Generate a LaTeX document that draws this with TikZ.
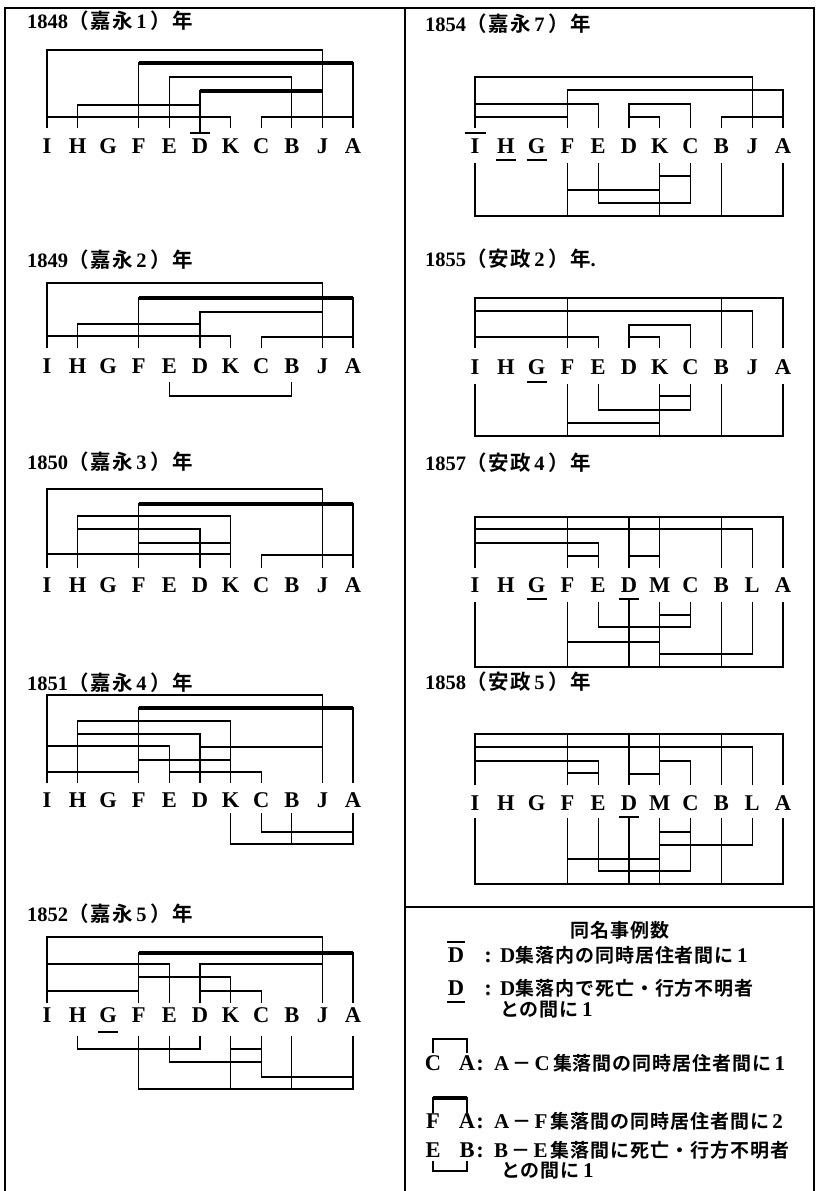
\documentclass[tikz,border=0pt]{standalone}
\usepackage{fontspec}
\setmainfont{Liberation Serif}
\newfontfamily\cjk{Noto Sans CJK JP}[BoldFont={Noto Sans CJK JP Bold},LetterSpace=5]
\newfontfamily\cjkt{Noto Sans CJK JP}[BoldFont={Noto Sans CJK JP Bold},LetterSpace=8]
\usetikzlibrary{calc}
\tikzset{
  lett/.style={font=\fontsize{22.5}{23}\selectfont\bfseries, anchor=base, inner sep=0pt},
  ttl/.style={font=\fontsize{20.5}{22}\selectfont\bfseries, anchor=base west, inner sep=0pt},
  lgtxt/.style={font=\fontsize{19}{21}\selectfont\bfseries, anchor=base west, inner sep=0pt},
  ln/.style={line width=1.3pt},
  thk/.style={line width=3.6pt},
  mthk/.style={line width=2.4pt},
  framel/.style={line width=1.8pt}
}
\newcommand\letrow[5]{\foreach \L [count=\i from 0] in {#5} {\node[lett] (#1-\L) at ({#2+#3*\i},#4) {\L};}}
\newcommand\brk[5][ln]{\draw[ln] (#2 |- 0,#5) -- (#2 |- 0,#4) -- (#3 |- 0,#4) -- (#3 |- 0,#5); \draw[#1] (#2 |- 0,#4) -- (#3 |- 0,#4);}
\newcommand\vln[3]{\draw[ln] (#1 |- 0,#2) -- (#1 |- 0,#3);}
\newcommand\undl[3]{\draw[ln] ($(#1 |- 0,#2)+(-#3,0)$) -- ($(#1 |- 0,#2)+(#3,0)$);}
\newcommand\yr[3]{#1{\cjkt （#2}\,#3\,{\cjkt ）年}}
\newcommand\lat[1]{{\fontsize{21}{21}\selectfont #1}}
\begin{document}
\begin{tikzpicture}[x=1pt,y=-1pt]
\fill[white] (0,0) rectangle (817,1191);
\useasboundingbox (0,0) rectangle (817,1191);
% frame
\draw[framel] (5,1191) -- (5,8) -- (814,8) -- (814,1191);
\draw[framel] (405,8) -- (405,1191);
\draw[framel] (405,907) -- (814,907);

% ---------- 1848
\node[ttl] (t1) at (27,28) {\yr{1848}{嘉永}{1}};
\letrow{a}{47}{30.6}{153}{I,H,G,F,E,D,K,C,B,J,A}
\brk{a-I}{a-J}{50}{128}
\brk[thk]{a-F}{a-A}{63}{128}
\brk{a-E}{a-B}{77}{128}
\brk[thk]{a-D}{a-J}{91}{128}
\brk{a-H}{a-D}{105}{128}
\brk{a-I}{a-K}{117}{128}
\brk{a-C}{a-A}{117}{128}
\vln{a-D}{128}{133}
\undl{a-D}{133}{10}

% ---------- 1849
\node[ttl] (t2) at (27,267) {\yr{1849}{嘉永}{2}};
\letrow{b}{47}{30.6}{373}{I,H,G,F,E,D,K,C,B,J,A}
\brk{b-I}{b-J}{283}{348}
\brk[thk]{b-F}{b-A}{298}{348}
\brk{b-D}{b-J}{312}{348}
\brk{b-H}{b-D}{324}{348}
\brk{b-I}{b-K}{336}{348}
\brk{b-C}{b-A}{337}{348}
\brk{b-E}{b-B}{396}{382}

% ---------- 1850
\node[ttl] (t3) at (27,469) {\yr{1850}{嘉永}{3}};
\letrow{c}{47}{30.6}{592}{I,H,G,F,E,D,K,C,B,J,A}
\brk{c-I}{c-J}{489}{568}
\brk[thk]{c-F}{c-A}{504}{568}
\brk{c-H}{c-K}{516}{568}
\brk{c-H}{c-D}{529}{568}
\brk{c-F}{c-K}{543}{568}
\brk{c-I}{c-K}{554}{568}
\brk{c-C}{c-A}{555}{568}

% ---------- 1851
\node[ttl] (t4) at (27,690) {\yr{1851}{嘉永}{4}};
\letrow{d}{47}{30.6}{807}{I,H,G,F,E,D,K,C,B,J,A}
\brk{d-I}{d-J}{695}{783}
\brk[thk]{d-F}{d-A}{708}{783}
\brk{d-H}{d-K}{721}{783}
\brk{d-H}{d-D}{734}{783}
\brk{d-I}{d-E}{746}{783}
\brk{d-D}{d-J}{747}{783}
\brk{d-F}{d-K}{760}{783}
\brk{d-I}{d-F}{772}{783}
\brk{d-E}{d-C}{772}{783}
\brk{d-C}{d-A}{832}{813}
\brk{d-K}{d-A}{844}{813}
\vln{d-B}{813}{844}

% ---------- 1852
\node[ttl] (t5) at (27,921) {\yr{1852}{嘉永}{5}};
\letrow{e}{47}{30.6}{1022}{I,H,G,F,E,D,K,C,B,J,A}
\brk{e-I}{e-J}{937}{1003}
\brk[thk]{e-F}{e-A}{953}{1003}
\brk{e-I}{e-E}{964}{1003}
\brk{e-D}{e-J}{964}{1003}
\brk{e-F}{e-K}{977}{1003}
\brk{e-I}{e-F}{991}{1003}
\brk{e-D}{e-C}{991}{1003}
\undl{e-G}{1032}{10}
\brk{e-H}{e-D}{1049}{1036}
\brk{e-K}{e-C}{1049}{1036}
\brk{e-E}{e-C}{1062}{1036}
\brk{e-C}{e-A}{1077}{1036}
\brk{e-F}{e-A}{1089}{1036}
\vln{e-K}{1036}{1089}
\vln{e-B}{1036}{1089}

% ---------- 1854
\node[ttl] (t6) at (425,31) {\yr{1854}{嘉永}{7}};
\letrow{f}{475}{30.8}{153}{I,H,G,F,E,D,K,C,B,J,A}
\brk{f-I}{f-J}{77}{128}
\brk{f-F}{f-A}{90}{128}
\brk{f-I}{f-E}{104}{128}
\brk{f-D}{f-C}{104}{128}
\brk{f-I}{f-F}{117}{128}
\brk{f-D}{f-K}{117}{128}
\brk{f-B}{f-A}{117}{128}
\undl{f-I}{133}{10.5}
\undl{f-H}{160}{10}
\undl{f-G}{160}{10}
\brk{f-K}{f-C}{176}{163}
\brk{f-F}{f-K}{190}{163}
\brk{f-E}{f-C}{203}{163}
\brk{f-I}{f-A}{216}{163}
\vln{f-F}{163}{216}
\vln{f-K}{163}{216}
\vln{f-B}{163}{216}

% ---------- 1855
\node[ttl] (t7) at (425,266) {\yr{1855}{安政}{2}.};
\letrow{g}{475}{30.8}{374}{I,H,G,F,E,D,K,C,B,J,A}
\brk{g-I}{g-A}{298}{348}
\vln{g-F}{298}{348}
\vln{g-B}{298}{348}
\brk{g-I}{g-J}{311}{348}
\brk{g-D}{g-C}{325}{348}
\brk{g-I}{g-E}{337}{348}
\brk{g-D}{g-K}{337}{348}
\undl{g-G}{382}{10}
\brk{g-K}{g-C}{396}{384}
\brk{g-E}{g-C}{410}{384}
\brk{g-F}{g-K}{423}{384}
\brk{g-I}{g-A}{436}{384}
\vln{g-F}{384}{436}
\vln{g-K}{384}{436}
\vln{g-B}{384}{436}

% ---------- 1857
\node[ttl] (t8) at (425,470) {\yr{1857}{安政}{4}};
\letrow{h}{475}{30.8}{592}{I,H,G,F,E,D,M,C,B,L,A}
\brk{h-I}{h-A}{517}{568}
\vln{h-F}{517}{568}
\vln{h-D}{517}{568}
\vln{h-M}{517}{568}
\vln{h-B}{517}{568}
\brk{h-I}{h-L}{529}{568}
\brk{h-I}{h-E}{543}{568}
\brk{h-F}{h-E}{556}{568}
\brk{h-D}{h-M}{556}{568}
\undl{h-G}{599}{10}
\undl{h-D}{599}{10}
\brk{h-M}{h-C}{615}{602}
\brk{h-E}{h-C}{627}{602}
\brk{h-F}{h-M}{642}{602}
\brk{h-M}{h-L}{654}{602}
\brk{h-I}{h-A}{667}{602}
\vln{h-F}{602}{667}
\vln{h-D}{599}{667}
\vln{h-M}{602}{667}
\vln{h-B}{602}{667}

% ---------- 1858
\node[ttl] (t9) at (425,689) {\yr{1858}{安政}{5}};
\letrow{i}{475}{30.8}{810}{I,H,G,F,E,D,M,C,B,L,A}
\brk{i-I}{i-A}{734}{785}
\vln{i-F}{734}{785}
\vln{i-D}{734}{785}
\vln{i-M}{734}{785}
\vln{i-B}{734}{785}
\brk{i-I}{i-L}{747}{785}
\brk{i-I}{i-E}{761}{785}
\brk{i-M}{i-C}{761}{785}
\brk{i-F}{i-E}{773}{785}
\brk[mthk]{i-D}{i-M}{774}{785}
\undl{i-D}{817}{10}
\brk{i-M}{i-C}{832}{818}
\brk{i-M}{i-L}{845}{818}
\brk{i-F}{i-M}{859}{818}
\brk{i-E}{i-C}{871}{818}
\brk{i-I}{i-A}{884}{818}
\vln{i-F}{818}{884}
\vln{i-D}{817}{884}
\vln{i-M}{818}{884}
\vln{i-B}{818}{884}

% ---------- legend
\node[lgtxt, anchor=base] (lgt) at (620,937) {\cjk 同名事例数};
\node[lett] (lD1) at (456,962) {D};
\undl{lD1}{942}{9}
\node[lett] (lc1) at (488,962) {:};
\node[lgtxt] (lr1) at (500,962) {\lat{D}{\cjk 集落内の同時居住者間に}\,\lat{1}};
\node[lett] (lD2) at (456,995) {D};
\undl{lD2}{1002}{9}
\node[lett] (lc2) at (488,995) {:};
\node[lgtxt] (lr2) at (500,995) {\lat{D}{\cjk 集落内で死亡・行方不明者}};
\node[lgtxt] (lr2b) at (500,1016) {{\cjk との間に}\,\lat{1}};
\node[lett] (lC) at (433,1070) {C};
\node[lett] (lA1) at (467,1070) {A};
\brk{lC}{lA1}{1039}{1053}
\node[lett] (lc3) at (480,1070) {:};
\node[lgtxt] (lr3) at (494,1070) {\lat{A}\,{\cjk －}\,\lat{C}\,{\cjk 集落間の同時居住者間に}\,\lat{1}};
\node[lett] (lF) at (433,1128) {F};
\node[lett] (lA2) at (467,1128) {A};
\brk[thk]{lF}{lA2}{1098}{1113}
\node[lett] (lc4) at (480,1128) {:};
\node[lgtxt] (lr4) at (494,1128) {\lat{A}\,{\cjk －}\,\lat{F}\,{\cjk 集落間の同時居住者間に}\,\lat{2}};
\node[lett] (lE) at (433,1157) {E};
\node[lett] (lB) at (467,1157) {B};
\brk{lE}{lB}{1171}{1161}
\node[lett] (lc5) at (480,1157) {:};
\node[lgtxt] (lr5) at (494,1157) {\lat{B}\,{\cjk －}\,\lat{E}\,{\cjk 集落間に死亡・行方不明者}};
\node[lgtxt] (lr5b) at (501,1177) {{\cjk との間に}\,\lat{1}};
\end{tikzpicture}
\end{document}
